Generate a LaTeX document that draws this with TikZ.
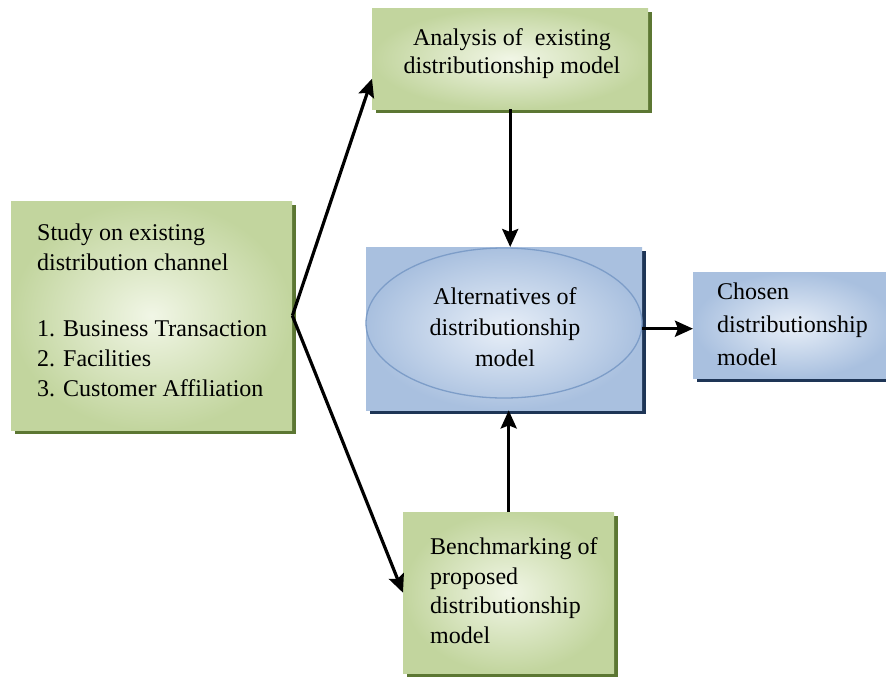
\documentclass[tikz,border=0pt]{standalone}
\usepackage{fontspec}
\setmainfont{Liberation Serif}
\usetikzlibrary{shapes.geometric,arrows.meta,shadows}
\definecolor{greenin}{HTML}{F1F6E6}
\definecolor{greenout}{HTML}{C2D59E}
\definecolor{greenshadow}{HTML}{5C7733}
\definecolor{bluein}{HTML}{E8EFF8}
\definecolor{blueout}{HTML}{A9C0DF}
\definecolor{blueshadow}{HTML}{1E3556}
\definecolor{ellipseline}{HTML}{7D9DC8}
\begin{document}
\begin{tikzpicture}[x=1pt,y=-1pt,
  gbox/.style={rectangle, inner sep=0pt, anchor=north west,
    inner color=greenin, outer color=greenout,
    drop shadow={shadow xshift=4pt,shadow yshift=-4pt,fill=greenshadow,opacity=1}},
  bbox/.style={rectangle, inner sep=0pt, anchor=north west,
    inner color=bluein, outer color=blueout,
    drop shadow={shadow xshift=4pt,shadow yshift=-4pt,fill=blueshadow,opacity=1}},
  lbl/.style={inner sep=0pt, font=\fontsize{24}{30}\selectfont},
  arr/.style={line width=3.2pt, -{Stealth[length=18pt,width=16pt,inset=3pt]}}]
\useasboundingbox (0,0) rectangle (886,681);

% boxes
\node[gbox, minimum width=281, minimum height=229] (study) at (11,201) {};
\node[gbox, minimum width=276, minimum height=101] (analysis) at (372,8) {};
\node[bbox, minimum width=276, minimum height=163] (alt) at (366,247) {};
\node[bbox, minimum width=200, minimum height=106] (chosen) at (693,272) {};
\node[gbox, minimum width=211, minimum height=161] (bench) at (403,512) {};
\node[ellipse, draw=ellipseline, line width=1.3pt, minimum width=276, minimum height=150,
      inner sep=0pt] (altell) at (504,323) {};

% labels
\node[lbl, anchor=north west, align=left] (studytext) at (37,219)
  {\strut Study on existing\\distribution channel\\[36pt]1. Business Transaction\\2. Facilities\\3. Customer Affiliation};
\node[lbl, anchor=north, align=center, font=\fontsize{24}{28}\selectfont] (analysistext) at (512,26)
  {\strut Analysis of\ \ existing\\distributionship model};
\node[lbl, anchor=north, align=center, font=\fontsize{24}{31}\selectfont] (alttext) at (505,283)
  {\strut Alternatives of\\distributionship\\model};
\node[lbl, anchor=north west, align=left, font=\fontsize{24}{33}\selectfont] (chosentext) at (717,276)
  {\strut Chosen\\distributionship\\model};
\node[lbl, anchor=north west, align=left, font=\fontsize{24}{29.5}\selectfont] (benchtext) at (430,534)
  {\strut Benchmarking of\\proposed\\distributionship\\model};

% connectors
\draw[arr] (study.east) -- ([yshift=-20pt]analysis.west);
\draw[arr] (study.east) -- (bench.west);
\draw[arr] (analysis.south) -- (analysis.south |- alt.north);
\draw[arr] (bench.north) -- (bench.north |- alt.south);
\draw[arr] (alt.east) -- (alt.east -| chosen.west);
\end{tikzpicture}
\end{document}
